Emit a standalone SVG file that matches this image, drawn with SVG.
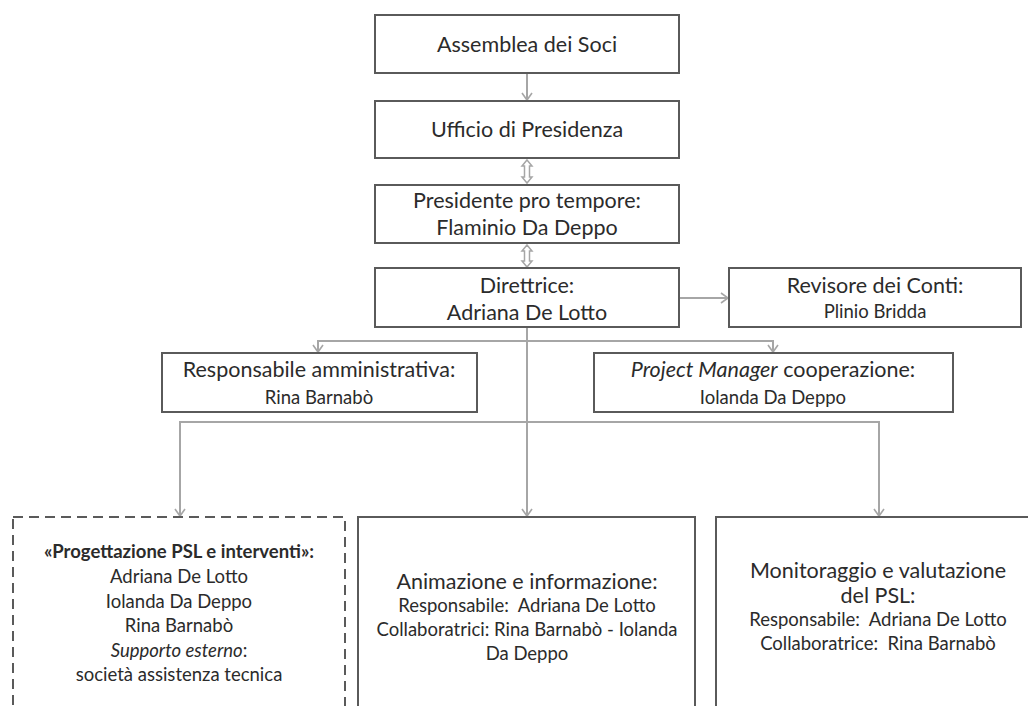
<svg xmlns="http://www.w3.org/2000/svg" width="1028" height="706" viewBox="0 0 1028 706">
<style>
.box{fill:#fff;stroke:#5a5a5a;stroke-width:2}
.dash{fill:#fff;stroke:#5a5a5a;stroke-width:2;stroke-dasharray:10 6}
.con{fill:none;stroke:#a6a6a6;stroke-width:2}
.dbl{fill:#fff;stroke:#a6a6a6;stroke-width:1.5}
text{font-family:Lato,"Liberation Sans",sans-serif;fill:#2b2b2b;text-anchor:middle}
.t{font-size:21.5px}
.s{font-size:18.5px}
.b{font-weight:bold}
.i{font-style:italic}
</style>
<defs>
<marker id="ah" markerUnits="userSpaceOnUse" markerWidth="14" markerHeight="12" refX="10" refY="6" orient="auto">
<path d="M3,1 L10,6 L3,11" fill="none" stroke="#a6a6a6" stroke-width="1.6"/>
</marker>
</defs>
<g id="connectors">
<line class="con" x1="527" y1="73" x2="527" y2="100" marker-end="url(#ah)"/>
<polygon class="dbl" points="527,160 532,166 529.5,166 529.5,177 532,177 527,183 522,177 524.5,177 524.5,166 522,166"/>
<polygon class="dbl" points="527,245 532,251 529.5,251 529.5,261 532,261 527,267 522,261 524.5,261 524.5,251 522,251"/>
<line class="con" x1="679" y1="298" x2="728" y2="298" marker-end="url(#ah)"/>
<line class="con" x1="527" y1="327" x2="527" y2="516" marker-end="url(#ah)"/>
<polyline class="con" points="527,341 318,341 318,352" marker-end="url(#ah)"/>
<polyline class="con" points="527,341 773,341 773,352" marker-end="url(#ah)"/>
<polyline class="con" points="527,422 180,422 180,516" marker-end="url(#ah)"/>
<polyline class="con" points="527,422 879,422 879,516" marker-end="url(#ah)"/>
</g>
<g id="assemblea">
<rect class="box" x="375" y="15" width="304" height="58"/>
<text class="t" x="527" y="52">Assemblea dei Soci</text>
</g>
<g id="ufficio">
<rect class="box" x="375" y="101" width="304" height="57"/>
<text class="t" x="527" y="137">Ufficio di Presidenza</text>
</g>
<g id="presidente">
<rect class="box" x="375" y="185" width="304" height="58"/>
<text class="t" x="527" y="208">Presidente pro tempore:</text>
<text class="t" x="527" y="235">Flaminio Da Deppo</text>
</g>
<g id="direttrice">
<rect class="box" x="375" y="268" width="304" height="59"/>
<text class="t" x="527" y="293">Direttrice:</text>
<text class="t" x="527" y="320">Adriana De Lotto</text>
</g>
<g id="revisore">
<rect class="box" x="729" y="268" width="292" height="59"/>
<text class="t" x="875" y="293">Revisore dei Conti:</text>
<text class="s" x="875" y="318">Plinio Bridda</text>
</g>
<g id="resp-amm">
<rect class="box" x="162" y="353" width="315" height="59"/>
<text class="t" x="319" y="377">Responsabile amministrativa:</text>
<text class="s" x="319" y="404">Rina Barnabò</text>
</g>
<g id="project-manager">
<rect class="box" x="594" y="353" width="359" height="59"/>
<text class="t" x="773" y="377"><tspan class="i">Project Manager</tspan> cooperazione:</text>
<text class="s" x="773" y="404">Iolanda Da Deppo</text>
</g>
<g id="progettazione">
<rect class="dash" x="13" y="517" width="332" height="210"/>
<text class="s b" x="179" y="558">«Progettazione PSL e interventi»:</text>
<text class="s" x="179" y="583">Adriana De Lotto</text>
<text class="s" x="179" y="608">Iolanda Da Deppo</text>
<text class="s" x="179" y="632">Rina Barnabò</text>
<text class="s" x="179" y="657"><tspan class="i">Supporto esterno</tspan>:</text>
<text class="s" x="179" y="681">società assistenza tecnica</text>
</g>
<g id="animazione">
<rect class="box" x="358" y="517" width="337" height="210"/>
<text class="t" x="527" y="589">Animazione e informazione:</text>
<text class="s" x="527" y="612" xml:space="preserve">Responsabile:  Adriana De Lotto</text>
<text class="s" x="527" y="636">Collaboratrici: Rina Barnabò - Iolanda</text>
<text class="s" x="527" y="660">Da Deppo</text>
</g>
<g id="monitoraggio">
<rect class="box" x="716" y="517" width="330" height="210"/>
<text class="t" x="878" y="578">Monitoraggio e valutazione</text>
<text class="t" x="878" y="603">del PSL:</text>
<text class="s" x="878" y="626" xml:space="preserve">Responsabile:  Adriana De Lotto</text>
<text class="s" x="878" y="650" xml:space="preserve">Collaboratrice:  Rina Barnabò</text>
</g>
</svg>
